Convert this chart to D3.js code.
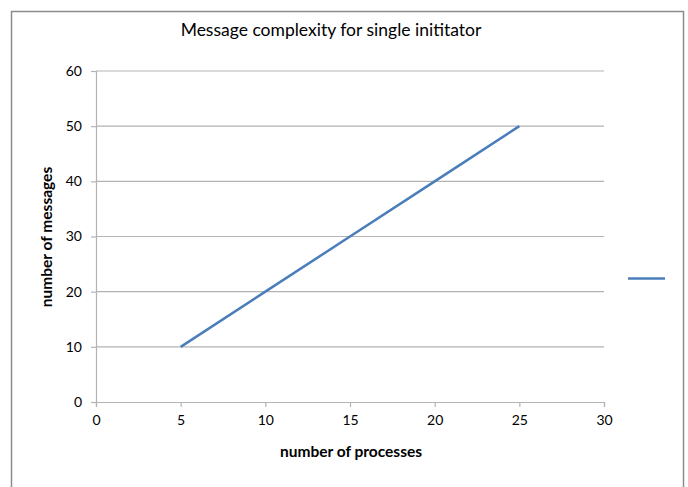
<!DOCTYPE html>
<html>
<head>
<meta charset="utf-8">
<script src="https://cdn.jsdelivr.net/npm/d3@7"></script>
<style>
  body { margin: 0; background: #fff; }
  svg { display: block; }
  text { font-family: Lato, "Open Sans", sans-serif; fill: #000; }
</style>
</head>
<body>
<svg class="chart" width="688" height="487"></svg>
<script>
// data
const processes = [5, 10, 15, 20, 25];
const messages  = [10, 20, 30, 40, 50];
const xTicks = [0, 5, 10, 15, 20, 25, 30];
const yTicks = [0, 10, 20, 30, 40, 50, 60];

const chartTitle = 'Message complexity for single inititator';
const xTitle = 'number of processes';
const yTitle = 'number of messages';

const svg = d3.select('.chart');

// outer frame
svg.append('rect')
    .attr('x', 11.5).attr('y', 11.5)
    .attr('width', 672).attr('height', 500)
    .attr('fill', '#fff')
    .attr('stroke', '#8c8c8c')
    .attr('stroke-width', 1.5);

const x = d3.scaleLinear().domain([0, 30]).range([96, 604]);
const y = d3.scaleLinear().domain([0, 60]).range([402, 71]);

// gridlines
svg.append('g')
    .selectAll('line')
    .data(yTicks.filter(d => d > 0))
    .join('line')
    .attr('x1', x(0)).attr('x2', x(30))
    .attr('y1', d => y(d)).attr('y2', d => y(d))
    .attr('stroke', '#b3b3b3')
    .attr('stroke-width', 1.2);

// y axis
const yAxis = svg.append('g')
    .attr('transform', `translate(${x(0)},0)`)
    .call(d3.axisLeft(y).tickValues(yTicks).tickSize(5).tickPadding(9));

// x axis
const xAxis = svg.append('g')
    .attr('transform', `translate(0,${y(0)})`)
    .call(d3.axisBottom(x).tickValues(xTicks).tickSize(5).tickPadding(8));

[yAxis, xAxis].forEach(ax => {
    ax.select('.domain').attr('stroke', '#b3b3b3').attr('stroke-width', 1.2);
    ax.selectAll('.tick line').attr('stroke', '#b3b3b3').attr('stroke-width', 1.2);
    ax.selectAll('.tick text')
        .style('font-family', 'Lato, "Open Sans", sans-serif')
        .style('font-size', '14px')
        .attr('fill', '#000');
});

// the series
const line = d3.line()
    .x((d, i) => x(processes[i]))
    .y(d => y(d));

svg.append('path')
    .datum(messages)
    .attr('d', line)
    .attr('fill', 'none')
    .attr('stroke', '#4a7ebb')
    .attr('stroke-width', 2.5);

// legend (no label)
svg.append('line')
    .attr('x1', 628).attr('x2', 665)
    .attr('y1', 278.5).attr('y2', 278.5)
    .attr('stroke', '#4a7ebb')
    .attr('stroke-width', 2.5);

// titles
svg.append('text')
    .attr('x', 331).attr('y', 36)
    .attr('text-anchor', 'middle')
    .style('font-size', '17.5px')
    .text(chartTitle);

svg.append('text')
    .attr('x', 351).attr('y', 457)
    .attr('text-anchor', 'middle')
    .style('font-size', '15.5px')
    .style('font-weight', 'bold')
    .text(xTitle);

svg.append('text')
    .attr('transform', `translate(52,237) rotate(-90)`)
    .attr('text-anchor', 'middle')
    .style('font-size', '15.5px')
    .style('font-weight', 'bold')
    .text(yTitle);
</script>
</body>
</html>
